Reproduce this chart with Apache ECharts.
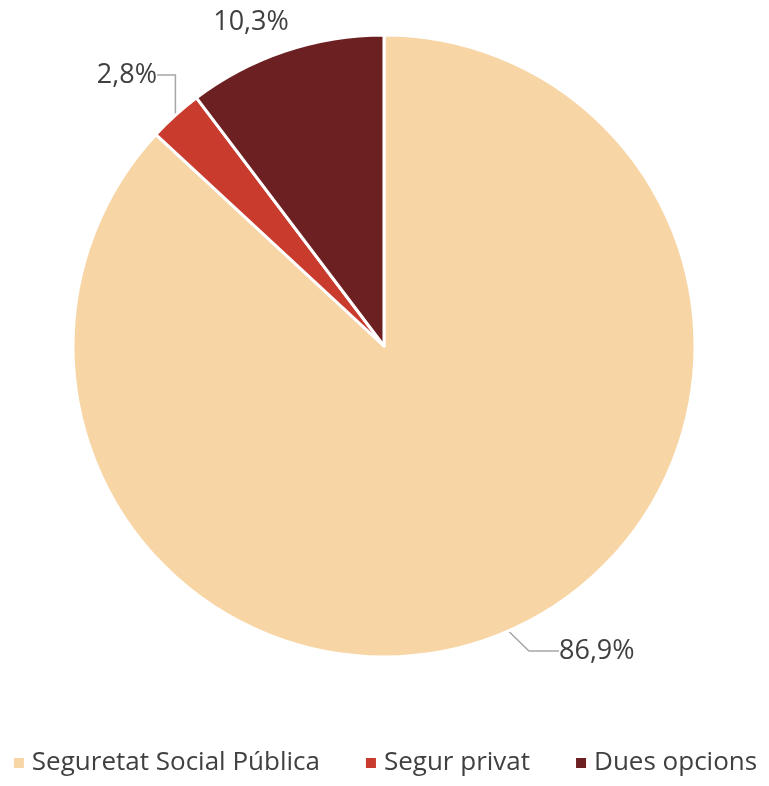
<!DOCTYPE html>
<html><head><meta charset="utf-8">
<script src="https://cdn.jsdelivr.net/npm/echarts@6/dist/echarts.min.js"></script>
<style>html,body{margin:0;padding:0;background:#fff}#c{width:769px;height:786px}</style>
</head><body><div id="c"></div>
<script>
const categories = ['Seguretat Social Pública', 'Segur privat', 'Dues opcions'];
const values = [86.9, 2.8, 10.3];
const colors = ['#F7D5A5', '#C93B2D', '#6D2022'];
const labelPos = [
  {x: 559, y: 651, align: 'left'},
  {x: 157, y: 75, align: 'right'},
  {x: 251, y: 22, align: 'center'}
];
const chart = echarts.init(document.getElementById('c'));
chart.setOption({
  animation: false,
  legend: {
    bottom: 5, left: 'center', icon: 'rect', itemWidth: 12, itemHeight: 12, itemGap: 44,
    textStyle: {fontFamily: 'Open Sans', fontSize: 26, color: '#404040', padding: [0, 0, 0, 2]},
    data: categories
  },
  series: [{
    type: 'pie', center: [384, 346], radius: 311, startAngle: 90, clockwise: true,
    data: categories.map((c, i) => ({
      name: c, value: values[i], itemStyle: {color: colors[i]},
      labelLine: {show: i !== 2}
    })),
    itemStyle: {borderColor: '#fff', borderWidth: 3},
    label: {
      show: true, position: 'outside', fontFamily: 'Open Sans', fontSize: 27, color: '#404040',
      formatter: p => p.value.toFixed(1).replace('.', ',') + '%'
    },
    labelLine: {show: true, lineStyle: {color: '#A6A6A6', width: 1.5}},
    labelLayout: p => ({x: labelPos[p.dataIndex].x, y: labelPos[p.dataIndex].y, align: labelPos[p.dataIndex].align, verticalAlign: 'middle'})
  }]
});
</script></body></html>
